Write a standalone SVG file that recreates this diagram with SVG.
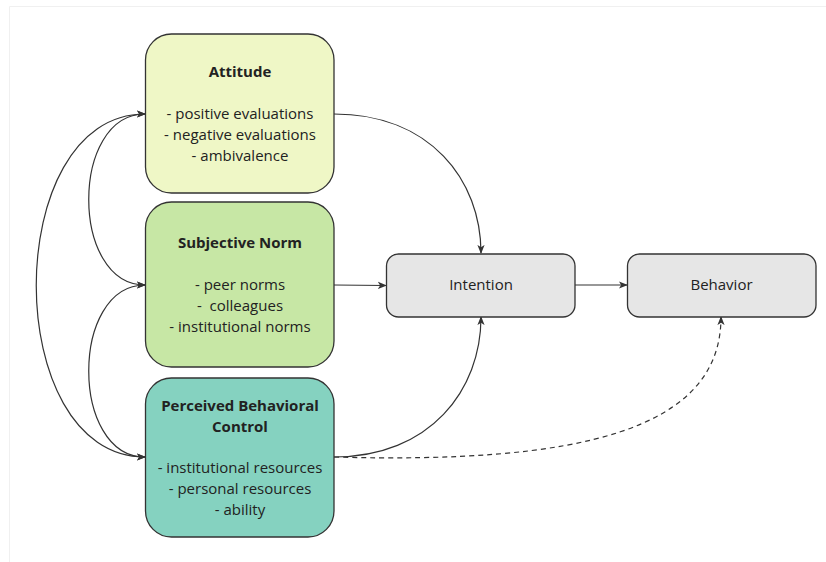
<svg xmlns="http://www.w3.org/2000/svg" width="826" height="562" viewBox="0 0 826 562">
<defs>
<marker id="arr" viewBox="0 0 10 10" refX="9" refY="5" markerWidth="9" markerHeight="9" markerUnits="userSpaceOnUse" orient="auto-start-reverse">
<path d="M0,1 L10,5 L0,9 L2.5,5 Z" fill="#333"/>
</marker>
<style>
.box{stroke:#333;stroke-width:1.3}
.t{font-family:"Open Sans","Noto Sans","DejaVu Sans",sans-serif;font-size:15px;fill:#222;text-anchor:middle;white-space:pre}
.b{font-weight:bold}
.e{fill:none;stroke:#333;stroke-width:1.2}
.d{stroke-dasharray:5 4}
</style>
</defs>
<rect x="0" y="0" width="826" height="562" fill="#fff"/>
<path d="M9.5,562 V6.5 H826" fill="none" stroke="#f0f0f0" stroke-width="1"/>
<g id="connectors">
<path class="e" d="M334,114 C430,114 481,180 481,253" marker-end="url(#arr)"/>
<path class="e" d="M334,285 L386,285.5" marker-end="url(#arr)"/>
<path class="e" d="M334,457 C430,457 481,390 481,317" marker-end="url(#arr)"/>
<path class="e" d="M575,285 L627,285" marker-end="url(#arr)"/>
<path class="e d" d="M334,457 C580,464 721,430 721,317" marker-end="url(#arr)"/>
<path class="e" d="M145,114 C70,114 70,285 145,285" marker-start="url(#arr)" marker-end="url(#arr)"/>
<path class="e" d="M145,285 C70,285 70,457 145,457" marker-start="url(#arr)" marker-end="url(#arr)"/>
<path class="e" d="M145,114 C0,114 0,457 145,457" marker-start="url(#arr)" marker-end="url(#arr)"/>
</g>
<g id="attitude">
<rect class="box" x="145.5" y="34" width="188.5" height="159" rx="26" fill="#eff7c6"/>
<text class="t b" x="240" y="77">Attitude</text>
<text class="t" x="240" y="119">- positive evaluations</text>
<text class="t" x="240" y="140">- negative evaluations</text>
<text class="t" x="240" y="161">- ambivalence</text>
</g>
<g id="subjective-norm">
<rect class="box" x="145.5" y="202" width="188.5" height="165" rx="26" fill="#c7e7a5"/>
<text class="t b" x="240" y="248">Subjective Norm</text>
<text class="t" x="240" y="290">- peer norms</text>
<text class="t" x="240" y="311">-  colleagues</text>
<text class="t" x="240" y="332">- institutional norms</text>
</g>
<g id="pbc">
<rect class="box" x="145.5" y="378" width="188.5" height="159" rx="26" fill="#85d2c0"/>
<text class="t b" x="240" y="411">Perceived Behavioral</text>
<text class="t b" x="240" y="432">Control</text>
<text class="t" x="240" y="473">- institutional resources</text>
<text class="t" x="240" y="494">- personal resources</text>
<text class="t" x="240" y="515">- ability</text>
</g>
<g id="intention">
<rect class="box" x="386.5" y="254" width="188.5" height="63" rx="12" fill="#e6e6e6"/>
<text class="t" x="481" y="290">Intention</text>
</g>
<g id="behavior">
<rect class="box" x="627.5" y="254" width="188.5" height="63" rx="12" fill="#e6e6e6"/>
<text class="t" x="721.5" y="290">Behavior</text>
</g>
</svg>
